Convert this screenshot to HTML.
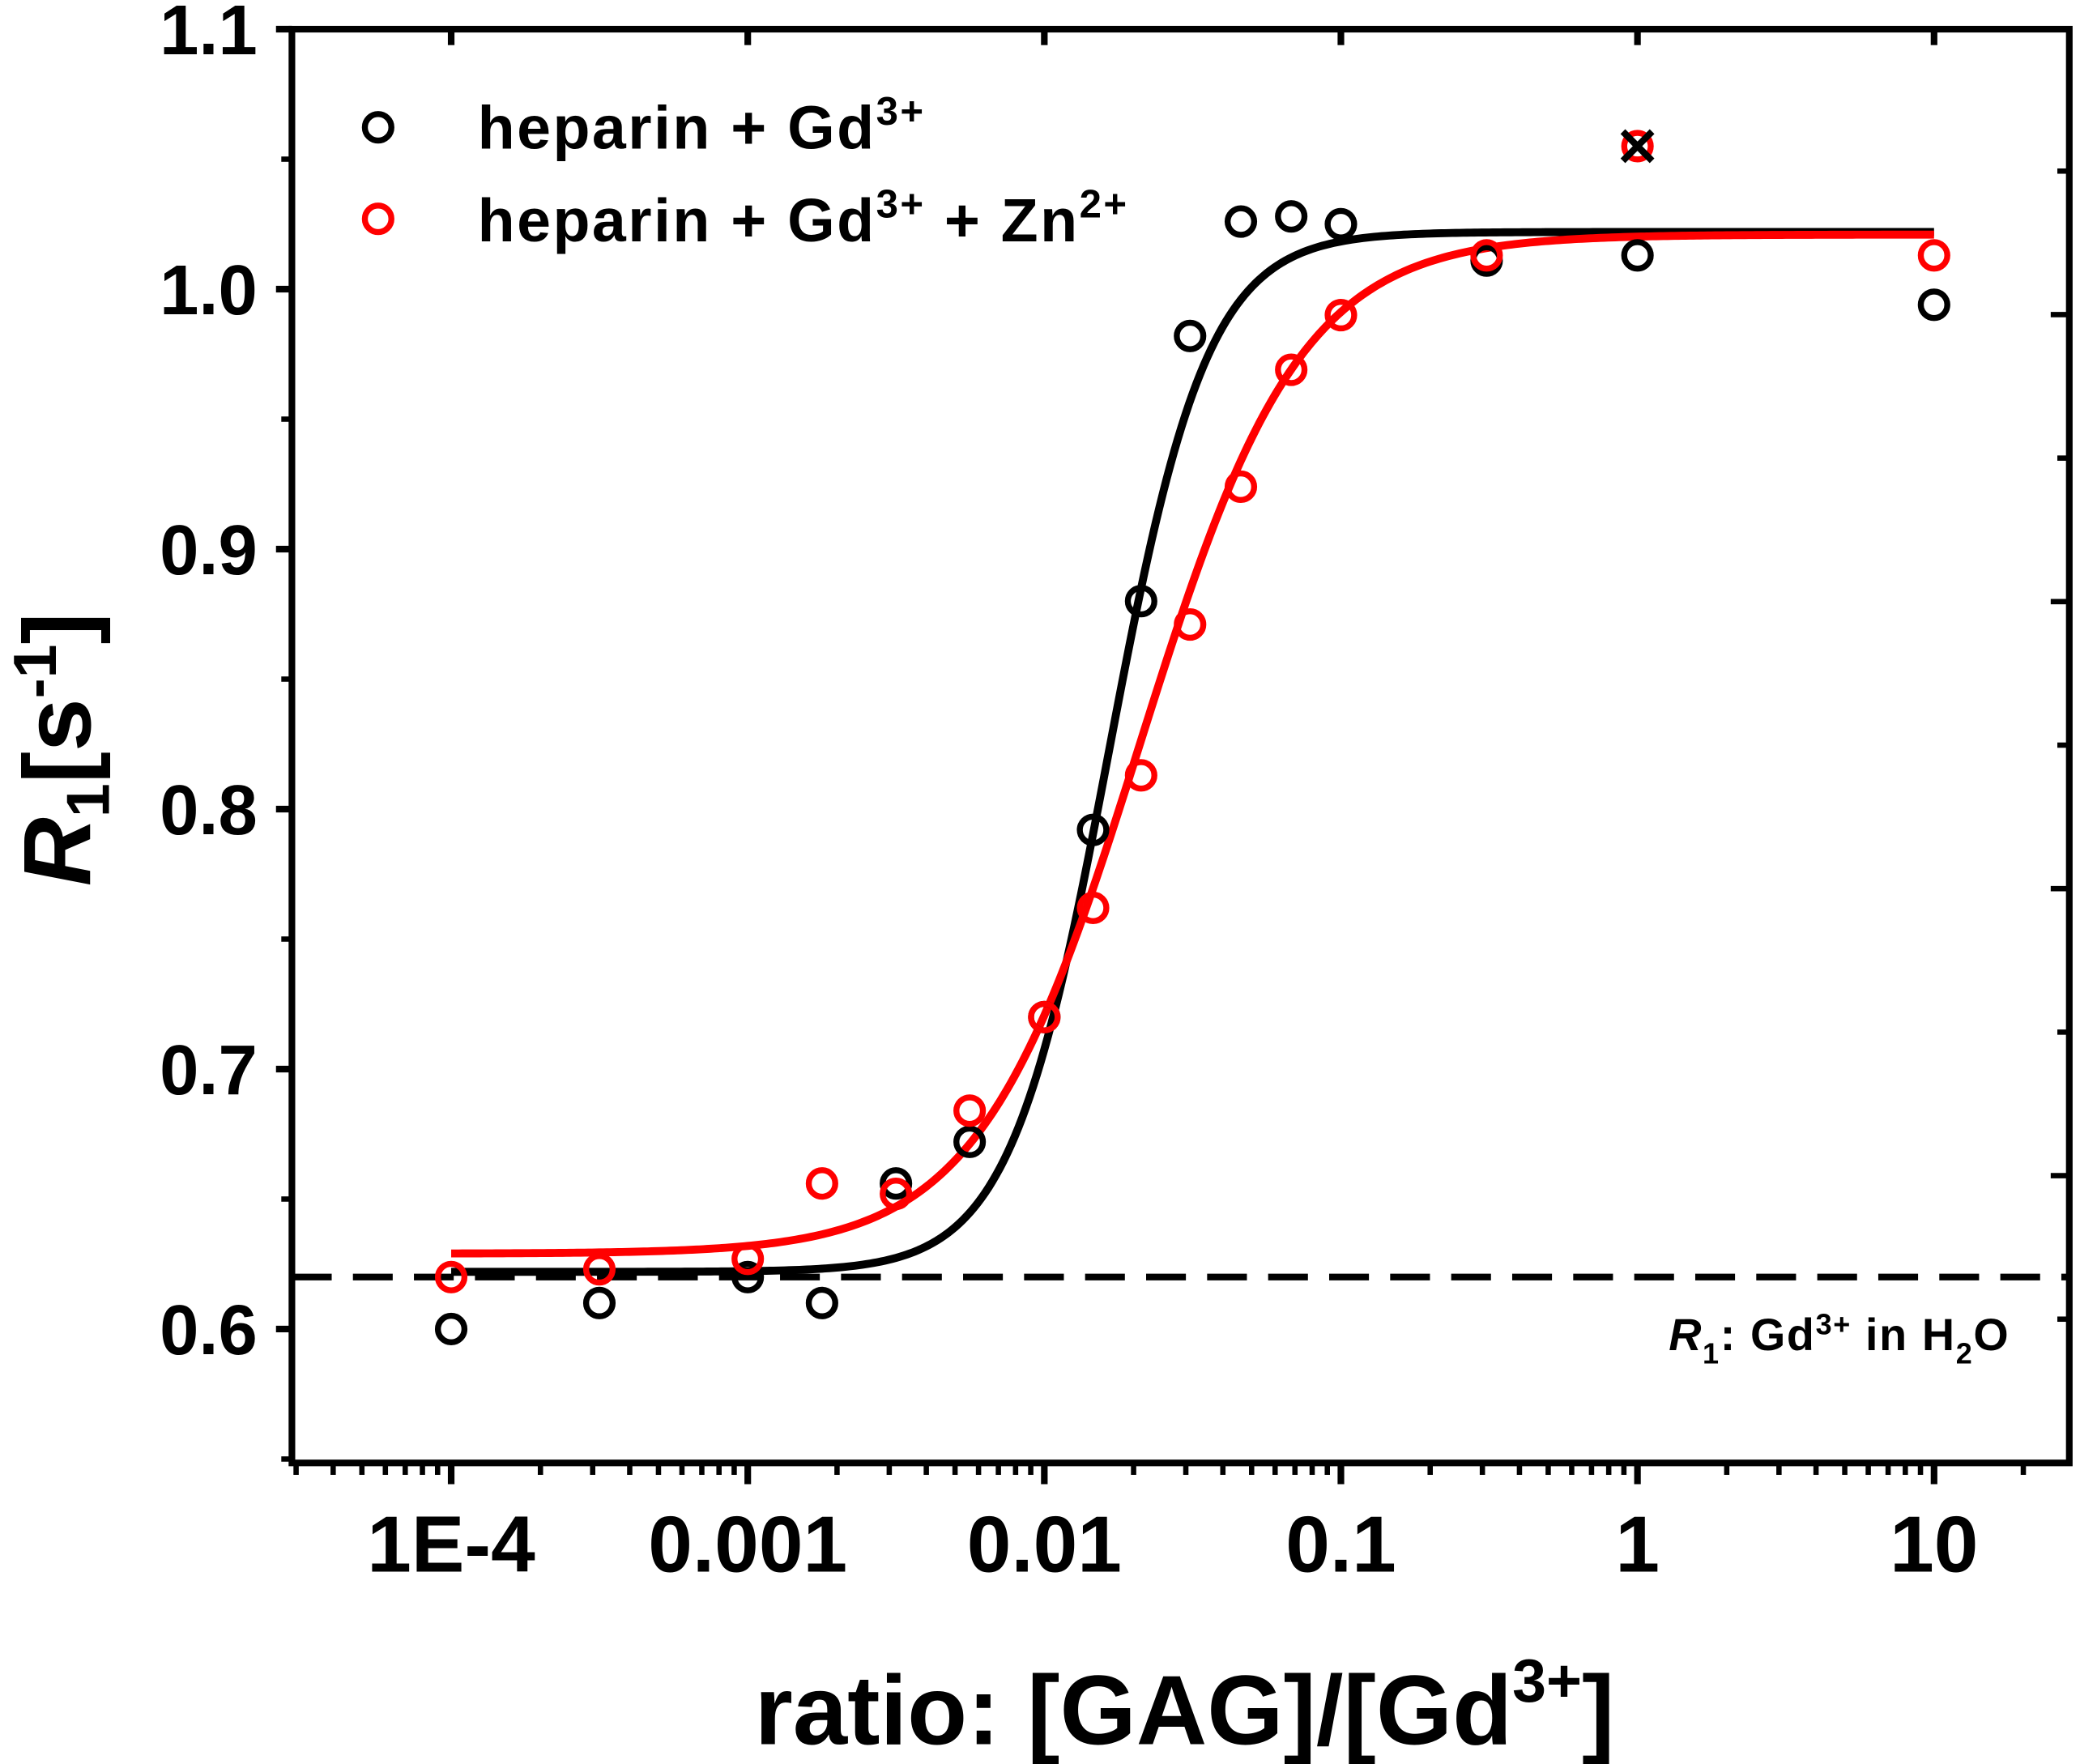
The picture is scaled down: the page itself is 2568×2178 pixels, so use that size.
<!DOCTYPE html>
<html><head><meta charset="utf-8"><style>
html,body{margin:0;padding:0;background:#fff}
svg{display:block}
text{font-family:"Liberation Sans",Arial,sans-serif;font-weight:bold}
</style></head><body>
<svg id="chart" width="2568" height="2178" viewBox="0 0 1568 1330" xmlns="http://www.w3.org/2000/svg">
<g id="axes"></g>
<g id="marks"></g>
<g>
<circle cx="285" cy="96" r="10" fill="none" stroke="#000" stroke-width="4.5"/>
<text x="360" y="112" font-size="46" letter-spacing="1.5">heparin + Gd<tspan font-size="30" dy="-18">3+</tspan></text>
<circle cx="285" cy="165" r="10" fill="none" stroke="#f00" stroke-width="4.5"/>
<text x="360" y="182" font-size="46" letter-spacing="1.5">heparin + Gd<tspan font-size="30" dy="-18">3+</tspan><tspan dy="18"> + Zn</tspan><tspan font-size="30" dy="-18">2+</tspan></text>
</g>
<text x="1258" y="1018" font-size="34" letter-spacing="1"><tspan font-style="italic">R</tspan><tspan font-size="22" dy="10">1</tspan><tspan dy="-10">: Gd</tspan><tspan font-size="22" dy="-12">3+</tspan><tspan dy="12"> in H</tspan><tspan font-size="22" dy="10">2</tspan><tspan dy="-10">O</tspan></text>
<text x="893" y="1315" font-size="74" text-anchor="middle">ratio: [GAG]/[Gd<tspan font-size="46" dy="-32">3+</tspan><tspan dy="32">]</tspan></text>
<text transform="translate(68,565) rotate(-90)" font-size="72" text-anchor="middle"><tspan font-style="italic">R</tspan><tspan font-size="46" dy="14">1</tspan><tspan dy="-14">[s</tspan><tspan font-size="46" dy="-26">-1</tspan><tspan dy="26">]</tspan></text>
</svg>
<script>
const blackX=[1e-4,3.16e-4,1e-3,1.78e-3,3.16e-3,5.6e-3,0.01,0.0146,0.0212,0.031,0.046,0.068,0.1,0.31,1,10];
const blackY=[0.600,0.610,0.620,0.610,0.656,0.672,0.720,0.792,0.880,0.982,1.026,1.028,1.025,1.011,1.013,0.994];
const redX=[1e-4,3.16e-4,1e-3,1.78e-3,3.16e-3,5.6e-3,0.01,0.0146,0.0212,0.031,0.046,0.068,0.1,0.31,1,10];
const redY=[0.620,0.623,0.627,0.656,0.652,0.684,0.720,0.762,0.813,0.871,0.924,0.969,0.990,1.013,1.055,1.013];
const excludedX=[1];
const excludedY=[1.055];
const blackFit=[0.622,1.022,0.0165,2.6];
const redFit=[0.629,1.021,0.021,1.6];
const baseline=[0.62];
const yTicks=[0.6,0.7,0.8,0.9,1.0,1.1];
const yTickLabels=["0.6","0.7","0.8","0.9","1.0","1.1"];
const xTicks=[1e-4,1e-3,0.01,0.1,1,10];
const xTickLabels=["1E-4","0.001","0.01","0.1","1","10"];

const L=220,R=1560,T=22,B=1103;
const lx0=-4.537,lx1=1.456,y0=0.5485,y1=1.1;
const sx=v=>L+(Math.log10(v)-lx0)/(lx1-lx0)*(R-L);
const sy=v=>B-(v-y0)/(y1-y0)*(B-T);
const NS="http://www.w3.org/2000/svg";
function mk(tag,attrs,parent){const e=document.createElementNS(NS,tag);for(const k in attrs)e.setAttribute(k,attrs[k]);parent.appendChild(e);return e;}
const axes=document.getElementById('axes'),marks=document.getElementById('marks');

let fr=mk('rect',{x:L,y:T,width:R-L,height:B-T,fill:'none',stroke:'#000','stroke-width':5},axes);



yTicks.forEach((v,i)=>{
  const t=mk('line',{x1:L-12,x2:L,y1:sy(v),y2:sy(v),stroke:'#000','stroke-width':5},axes);
  
  
  const lb=mk('text',{x:L-26,y:sy(v)+19,'font-size':53,'text-anchor':'end'},axes);
  lb.textContent=yTickLabels[i];
  
  
  const m=v+0.05;
  if(m<1.1){const mt=mk('line',{x1:L-8,x2:L,y1:sy(m),y2:sy(m),stroke:'#000','stroke-width':4},axes);
  
  }
});
const m0=mk('line',{x1:L-8,x2:L,y1:sy(0.55),y2:sy(0.55),stroke:'#000','stroke-width':4},axes);


for(let k=0;k<10;k++){
  const yy=129+k*108.2;
  const len=(k%2===1)?14:9;
  const rt=mk('line',{x1:R-len,x2:R,y1:yy,y2:yy,stroke:'#000','stroke-width':4},axes);
  
  
}

for(let d=-5;d<=1;d++){
  for(let m=1;m<=9;m++){
    const v=m*Math.pow(10,d);
    if(v<Math.pow(10,lx0)||v>Math.pow(10,lx1))continue;
    const major=m===1;
    const t=mk('line',{x1:sx(v),x2:sx(v),y1:B,y2:B+(major?16:9),stroke:'#000','stroke-width':major?5:4},axes);
    
    
    if(major){
      const tt=mk('line',{x1:sx(v),x2:sx(v),y1:T,y2:T+12,stroke:'#000','stroke-width':5},axes);
      
      
    }
  }
}
xTicks.forEach((v,i)=>{
  const lb=mk('text',{x:sx(v),y:1185,'font-size':60,'text-anchor':'middle'},axes);
  lb.textContent=xTickLabels[i];
  
  
});

const bl=mk('line',{x1:L,x2:R,y1:sy(baseline[0]),y2:sy(baseline[0]),stroke:'#000','stroke-width':5,'stroke-dasharray':'30 16'},marks);



function fitPath(p){
  let d='';
  for(let i=0;i<=400;i++){
    const lg=-4+5*i/400,x=Math.pow(10,lg);
    const y=p[0]+(p[1]-p[0])/(1+Math.pow(p[2]/x,p[3]));
    d+=(i?'L':'M')+sx(x).toFixed(2)+','+sy(y).toFixed(2);
  }
  return d;
}
const bf=mk('path',{d:fitPath(blackFit),fill:'none',stroke:'#000','stroke-width':6},marks);


const rf=mk('path',{d:fitPath(redFit),fill:'none',stroke:'#f00','stroke-width':6},marks);



blackX.forEach((x,i)=>{
  const c=mk('circle',{cx:sx(x),cy:sy(blackY[i]),r:10,fill:'none',stroke:'#000','stroke-width':4.5},marks);
  
  
});
redX.forEach((x,i)=>{
  const c=mk('circle',{cx:sx(x),cy:sy(redY[i]),r:10,fill:'none',stroke:'#f00','stroke-width':4.5},marks);
  
  
});
excludedX.forEach((x,i)=>{
  const cx=sx(x),cy=sy(excludedY[i]);
  const p=mk('path',{d:`M${cx-11},${cy-11}L${cx+11},${cy+11}M${cx+11},${cy-11}L${cx-11},${cy+11}`,stroke:'#000','stroke-width':5,fill:'none'},marks);
  
  
});
</script>
</body></html>
